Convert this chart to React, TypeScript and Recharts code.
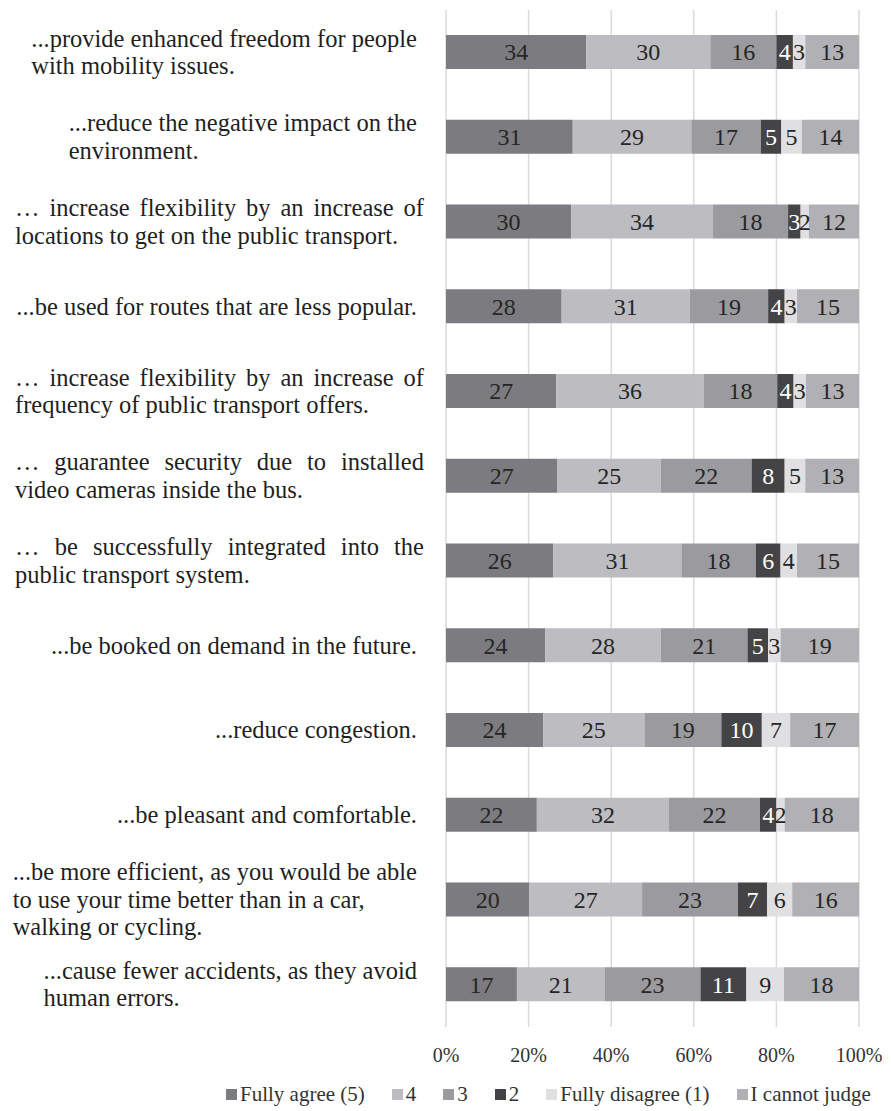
import React from 'react';
import { BarChart, Bar, XAxis, YAxis, CartesianGrid, LabelList } from 'recharts';

// statements (category axis), "\n" marks a line break in the label
const statements = [
  '...provide enhanced freedom for people\nwith mobility issues.',
  '...reduce the negative impact on the\nenvironment.',
  '… increase flexibility by an increase of\nlocations to get on the public transport.',
  '...be used for routes that are less popular.',
  '… increase flexibility by an increase of\nfrequency of public transport offers.',
  '… guarantee security due to installed\nvideo cameras inside the bus.',
  '… be successfully integrated into the\npublic transport system.',
  '...be booked on demand in the future.',
  '...reduce congestion.',
  '...be pleasant and comfortable.',
  '...be more efficient, as you would be able\nto use your time better than in a car,\nwalking or cycling.',
  '...cause fewer accidents, as they avoid\nhuman errors.',
];

const fullyAgree = [34, 31, 30, 28, 27, 27, 26, 24, 24, 22, 20, 17];
const four = [30, 29, 34, 31, 36, 25, 31, 28, 25, 32, 27, 21];
const three = [16, 17, 18, 19, 18, 22, 18, 21, 19, 22, 23, 23];
const two = [4, 5, 3, 4, 4, 8, 6, 5, 10, 4, 7, 11];
const fullyDisagree = [3, 5, 2, 3, 3, 5, 4, 3, 7, 2, 6, 9];
const cannotJudge = [13, 14, 12, 15, 13, 13, 15, 19, 17, 18, 16, 18];

const xTicks = [0, 0.2, 0.4, 0.6, 0.8, 1];

const series = [
  { key: 'fullyAgree', name: 'Fully agree (5)', color: '#7c7c80', text: '#262626' },
  { key: 'four', name: '4', color: '#bdbdc1', text: '#262626' },
  { key: 'three', name: '3', color: '#9b9b9f', text: '#262626' },
  { key: 'two', name: '2', color: '#444446', text: '#ffffff' },
  { key: 'fullyDisagree', name: 'Fully disagree (1)', color: '#e0e0e2', text: '#262626' },
  { key: 'cannotJudge', name: 'I cannot judge', color: '#b1b1b5', text: '#262626' },
];

const rows = statements.map((statement, i) => ({
  statement,
  fullyAgree: fullyAgree[i],
  four: four[i],
  three: three[i],
  two: two[i],
  fullyDisagree: fullyDisagree[i],
  cannotJudge: cannotJudge[i],
}));

// how each statement block is set: 'box' = left aligned, block flush right;
// 'justify' = justified paragraph
const labelAlign = ['box', 'box', 'justify', 'box', 'justify', 'justify', 'justify', 'box', 'box', 'box', 'box', 'box'];

const FONT = '"Liberation Serif", "Times New Roman", serif';
const LABEL_SIZE = 24.5;
const LINE_H = 27.5;
const BOX_RIGHT = 417;
const JUST_LEFT = 15;
const JUST_RIGHT = 424;

let ctx: CanvasRenderingContext2D | null = null;
const measure = (s: string) => {
  if (!ctx) ctx = document.createElement('canvas').getContext('2d');
  if (!ctx) return s.length * LABEL_SIZE * 0.45;
  ctx.font = `${LABEL_SIZE}px "Liberation Serif"`;
  return ctx.measureText(s).width;
};

const CategoryTick = (props: any) => {
  const { y, payload } = props;
  const value: string = payload.value;
  const i = statements.indexOf(value);
  const lines = value.split('\n');
  const n = lines.length;
  const first = y + 8 - ((n - 1) / 2) * LINE_H;
  const common = { fontFamily: FONT, fontSize: LABEL_SIZE, fill: '#1f1f1f' };

  if (labelAlign[i] === 'justify') {
    const width = JUST_RIGHT - JUST_LEFT;
    return (
      <g>
        {lines.map((line, li) => {
          const ly = first + li * LINE_H;
          if (li === n - 1) {
            return <text key={li} x={JUST_LEFT} y={ly} {...common}>{line}</text>;
          }
          const words = line.split(' ');
          const widths = words.map(measure);
          const gap = (width - widths.reduce((a, b) => a + b, 0)) / (words.length - 1);
          let cx = JUST_LEFT;
          return (
            <g key={li}>
              {words.map((w, wi) => {
                const wx = cx;
                cx += widths[wi] + gap;
                return <text key={wi} x={wx} y={ly} {...common}>{w}</text>;
              })}
            </g>
          );
        })}
      </g>
    );
  }

  const maxW = Math.max(...lines.map(measure));
  const left = BOX_RIGHT - maxW;
  return (
    <g>
      {lines.map((line, li) => (
        <text key={li} x={left} y={first + li * LINE_H} {...common}>{line}</text>
      ))}
    </g>
  );
};

const PctTick = (props: any) => {
  const { x, y, payload } = props;
  return (
    <text x={x} y={y + 27} textAnchor="middle" fontFamily={FONT} fontSize={20} fill="#333">
      {Math.round(payload.value * 100)}%
    </text>
  );
};

const makeValueLabel = (color: string) => (props: any) => {
  const { x, y, width, height, value } = props;
  return (
    <text
      x={x + width / 2}
      y={y + height / 2}
      dy="0.35em"
      textAnchor="middle"
      fontFamily={FONT}
      fontSize={24}
      fill={color}
    >
      {value}
    </text>
  );
};

export default function App() {
  return (
    <div style={{ position: 'absolute', left: 0, top: 0, width: 891, height: 1111, background: '#fff' }}>
      <BarChart
        width={891}
        height={1111}
        data={rows}
        layout="vertical"
        stackOffset="expand"
        margin={{ top: 10, right: 32, bottom: 44, left: 0 }}
      >
        <CartesianGrid horizontal={false} stroke="#dadada" strokeWidth={1.5} />
        <XAxis
          type="number"
          domain={[0, 1]}
          ticks={xTicks}
          axisLine={false}
          tickLine={false}
          height={40}
          tick={<PctTick />}
        />
        <YAxis
          type="category"
          dataKey="statement"
          width={446}
          axisLine={false}
          tickLine={false}
          interval={0}
          tick={<CategoryTick />}
        />
        {series.map((s) => (
          <Bar key={s.key} dataKey={s.key} name={s.name} stackId="a" fill={s.color} barSize={34} isAnimationActive={false}>
            <LabelList dataKey={s.key} content={makeValueLabel(s.text)} />
          </Bar>
        ))}
      </BarChart>
      <div
        style={{
          position: 'absolute',
          left: 226,
          top: 1082,
          display: 'flex',
          alignItems: 'center',
          gap: 27,
          fontFamily: FONT,
          fontSize: 21,
          color: '#333',
          whiteSpace: 'nowrap',
        }}
      >
        {series.map((s) => (
          <div key={s.key} style={{ display: 'flex', alignItems: 'center', gap: 3 }}>
            <span style={{ width: 11, height: 11, background: s.color, display: 'inline-block' }} />
            <span>{s.name}</span>
          </div>
        ))}
      </div>
    </div>
  );
}
